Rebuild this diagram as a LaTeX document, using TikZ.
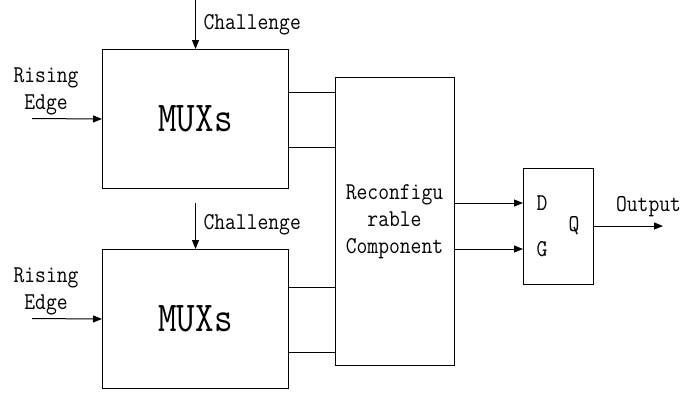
\documentclass[tikz,border=0pt]{standalone}
\usetikzlibrary{arrows.meta}
\newcommand\vsc[1]{\scalebox{1}[1.15]{#1}}
\begin{document}
\begin{tikzpicture}[x=1pt,y=-1pt,line width=1pt,
  blk/.style={draw,inner sep=0pt,anchor=north west},
  lbl/.style={font=\fontsize{21}{27}\selectfont\ttfamily,inner sep=0pt},
  big/.style={font=\fontsize{36}{40}\selectfont\ttfamily,inner sep=0pt},
  arr/.style={-{Triangle[length=9pt,width=7pt]}}]
\useasboundingbox (0,0) rectangle (682,392);
% MUX blocks
\node[blk,minimum width=186pt,minimum height=139pt] (m1) at (102,49) {};
\node[blk,minimum width=186pt,minimum height=139pt] (m2) at (102,249) {};
\node[big] (t1) at (m1.center) {\scalebox{1}[1.18]{MUXs}};
\node[big] (t2) at (m2.center) {\scalebox{1}[1.18]{MUXs}};
% reconfigurable component
\node[blk,minimum width=119pt,minimum height=288pt] (r) at (335,77) {};
\node[lbl,align=center] (rt) at (394.5,222) {\vsc{Reconfigu}\\\vsc{rable}\\\vsc{Component}};
% latch
\node[blk,minimum width=70pt,minimum height=116pt] (dq) at (523,168) {};
\node[lbl] (d) at (542,203) {\vsc{D}};
\node[lbl] (g) at (542,249) {\vsc{G}};
\node[lbl] (q) at (574,226) {\vsc{Q}};
% challenge inputs
\coordinate (c1) at (m1.north |- 0,0);
\coordinate (c2) at (m2.north |- 0,203);
\draw[arr] (c1) -- (m1.north);
\draw[arr] (c2) -- (m2.north);
\node[lbl,anchor=west] (cl1) at (203,25) {\vsc{Challenge}};
\node[lbl,anchor=west] (cl2) at (203,225) {\vsc{Challenge}};
% rising edge inputs
\node[lbl,align=center] (re1) at (46,91) {\vsc{Rising}\\\vsc{Edge}};
\node[lbl,align=center] (re2) at (46,291) {\vsc{Rising}\\\vsc{Edge}};
\coordinate (e1) at (32,118.5);
\coordinate (e2) at (32,318.5);
\draw[arr] (e1) -- (m1.west);
\draw[arr] (e2) -- (m2.west);
% MUX to reconfigurable
\draw (m1.east |- 0,92) -- (r.west |- 0,92);
\draw (m1.east |- 0,147) -- (r.west |- 0,147);
\draw (m2.east |- 0,287) -- (r.west |- 0,287);
\draw (m2.east |- 0,352) -- (r.west |- 0,352);
% reconfigurable to latch
\draw[arr] (r.east |- 0,203) -- (dq.west |- 0,203);
\draw[arr] (r.east |- 0,249) -- (dq.west |- 0,249);
% output
\coordinate (o) at (663,226);
\draw[arr] (dq.east |- o) -- (o);
\node[lbl] (ol) at (648.5,207) {\vsc{Output}};
\end{tikzpicture}
\end{document}
